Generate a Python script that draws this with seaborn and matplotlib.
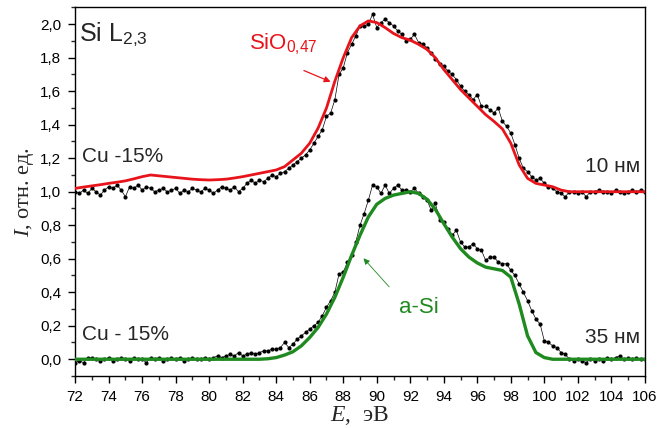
import matplotlib
matplotlib.use("Agg")
import matplotlib.pyplot as plt
import numpy as np
import pandas as pd
import seaborn as sns
from matplotlib.ticker import FuncFormatter, MultipleLocator

# energy grid of the measured points (0.25 eV step)
ENERGY = np.linspace(72.0, 106.0, 137)

# measured spectrum, 10 nm film (shifted by +1)
SPEC_10NM = [
    1.00, 0.99, 1.01, 0.99,  # 72
    1.02, 1.00, 0.98, 1.01,  # 73
    1.03, 1.02, 1.04, 1.01,  # 74
    0.97, 1.03, 1.02, 1.04,  # 75
    1.01, 1.03, 1.02, 1.00,  # 76
    1.01, 1.02, 1.00, 1.01,  # 77
    1.02, 0.99, 1.01, 1.00,  # 78
    1.02, 1.01, 1.00, 1.02,  # 79
    1.01, 0.99, 1.01, 1.03,  # 80
    1.02, 1.01, 1.03, 1.00,  # 81
    1.02, 1.05, 1.07, 1.05,  # 82
    1.07, 1.06, 1.08, 1.10,  # 83
    1.09, 1.11, 1.12, 1.14,  # 84
    1.16, 1.18, 1.20, 1.22,  # 85
    1.25, 1.29, 1.33, 1.37,  # 86
    1.45, 1.47, 1.55, 1.70,  # 87
    1.74, 1.83, 1.88, 1.93,  # 88
    1.99, 1.99, 2.00, 2.06,  # 89
    1.98, 2.01, 2.03, 2.01,  # 90
    1.99, 1.96, 1.94, 1.90,  # 91
    1.91, 1.94, 1.89, 1.88,  # 92
    1.86, 1.83, 1.79, 1.76,  # 93
    1.75, 1.72, 1.70, 1.67,  # 94
    1.63, 1.60, 1.58, 1.55,  # 95
    1.58, 1.51, 1.51, 1.49,  # 96
    1.47, 1.50, 1.42, 1.39,  # 97
    1.35, 1.28, 1.20, 1.14,  # 98
    1.12, 1.09, 1.07, 1.08,  # 99
    1.05, 1.03, 1.02, 1.00,  # 100
    0.99, 0.97, 1.00, 1.00,  # 101
    0.99, 1.00, 0.97, 1.00,  # 102
    1.00, 1.01, 1.00, 1.00,  # 103
    0.99, 1.01, 1.00, 0.99,  # 104
    1.00, 1.01, 1.00, 1.01,  # 105
    1.00,                    # 106
]

# measured spectrum, 35 nm film
SPEC_35NM = [
    -0.02, -0.01, -0.02, 0.01,  # 72
    0.01, 0.00, -0.01, 0.00,    # 73
    0.01, -0.01, 0.00, 0.01,    # 74
    0.00, -0.01, 0.01, 0.00,    # 75
    0.00, -0.02, 0.01, 0.00,    # 76
    0.01, -0.01, 0.00, 0.01,    # 77
    0.00, 0.01, -0.01, 0.00,    # 78
    0.01, 0.00, 0.00, 0.01,     # 79
    0.00, 0.01, 0.02, 0.01,     # 80
    0.02, 0.03, 0.02, 0.04,     # 81
    0.02, 0.03, 0.04, 0.03,     # 82
    0.04, 0.05, 0.05, 0.06,     # 83
    0.06, 0.07, 0.10, 0.07,     # 84
    0.09, 0.12, 0.14, 0.16,     # 85
    0.18, 0.20, 0.22, 0.26,     # 86
    0.31, 0.35, 0.40, 0.51,     # 87
    0.52, 0.58, 0.62, 0.70,     # 88
    0.80, 0.87, 0.95, 1.04,     # 89
    1.03, 0.99, 1.04, 0.99,     # 90
    1.02, 1.04, 1.01, 1.01,     # 91
    1.00, 1.02, 0.99, 0.97,     # 92
    0.95, 0.89, 0.93, 0.83,     # 93
    0.82, 0.78, 0.74, 0.77,     # 94
    0.70, 0.67, 0.67, 0.69,     # 95
    0.66, 0.65, 0.59, 0.61,     # 96
    0.61, 0.58, 0.57, 0.57,     # 97
    0.53, 0.50, 0.45, 0.40,     # 98
    0.35, 0.29, 0.24, 0.21,     # 99
    0.11, 0.10, 0.08, 0.07,     # 100
    0.04, 0.03, 0.00, -0.01,    # 101
    0.00, -0.01, -0.02, 0.00,   # 102
    -0.01, 0.00, -0.01, 0.01,   # 103
    0.00, 0.01, 0.02, 0.00,     # 104
    0.01, 0.00, 0.01, 0.00,     # 105
    0.00,                       # 106
]

# reference spectra (0.5 eV step)
REF_ENERGY = np.linspace(72.0, 106.0, 69)

REF_SIO = [
    1.020, 1.028, 1.035, 1.042, 1.050, 1.057, 1.065, 1.077,  # 72-75.5
    1.090, 1.100, 1.095, 1.090, 1.085, 1.080, 1.075, 1.072,  # 76-79.5
    1.070, 1.072, 1.075, 1.082, 1.090, 1.100, 1.110, 1.120,  # 80-83.5
    1.130, 1.150, 1.190, 1.230, 1.290, 1.380, 1.500, 1.660,  # 84-87.5
    1.800, 1.920, 1.990, 2.020, 2.010, 1.980, 1.945, 1.920,  # 88-91.5
    1.905, 1.880, 1.850, 1.800, 1.730, 1.670, 1.610, 1.560,  # 92-95.5
    1.510, 1.460, 1.420, 1.375, 1.290, 1.160, 1.080, 1.050,  # 96-99.5
    1.040, 1.030, 1.010, 1.000, 1.000, 1.000, 1.000, 1.000,  # 100-103.5
    1.000, 1.000, 1.000, 1.000, 1.000,                       # 104-106
]

REF_ASI = [
    0.000, 0.000, 0.000, 0.000, 0.000, 0.000, 0.000, 0.000,  # 72-75.5
    0.000, 0.000, 0.000, 0.000, 0.000, 0.000, 0.000, 0.000,  # 76-79.5
    0.000, 0.000, 0.000, 0.000, 0.000, 0.000, 0.000, 0.003,  # 80-83.5
    0.010, 0.025, 0.045, 0.080, 0.130, 0.190, 0.270, 0.370,  # 84-87.5
    0.490, 0.620, 0.740, 0.850, 0.925, 0.960, 0.980, 0.990,  # 88-91.5
    1.000, 0.990, 0.955, 0.895, 0.810, 0.730, 0.660, 0.610,  # 92-95.5
    0.575, 0.550, 0.540, 0.530, 0.490, 0.330, 0.140, 0.040,  # 96-99.5
    0.010, 0.000, 0.000, 0.000, 0.000, 0.000, 0.000, 0.000,  # 100-103.5
    0.000, 0.000, 0.000, 0.000, 0.000,                       # 104-106
]

RED = "#e8141b"
GREEN = "#1f8a1f"


def comma_formatter(x: float, pos: int) -> str:
    return f"{x:.1f}".replace(".", ",").replace("-0,0", "0,0")


def main():
    sns.set_style("ticks")
    plt.rcParams["font.family"] = ["Liberation Sans", "DejaVu Sans"]
    plt.rcParams["mathtext.fontset"] = "custom"
    plt.rcParams["mathtext.rm"] = "Liberation Sans"
    plt.rcParams["mathtext.it"] = "Liberation Serif:italic"

    meas = pd.DataFrame({"E": ENERGY, "top": SPEC_10NM, "bottom": SPEC_35NM})
    ref = pd.DataFrame({"E": REF_ENERGY, "sio": REF_SIO, "asi": REF_ASI})

    fig = plt.figure(figsize=(6.71, 4.28), dpi=100)
    ax = fig.add_axes([0.112, 0.1215, 0.849, 0.861])

    for col in ["top", "bottom"]:
        sns.lineplot(data=meas, x="E", y=col, ax=ax, color="black", lw=0.5,
                     marker="o", markersize=3.0, markeredgewidth=0, zorder=2)
    sns.lineplot(data=ref, x="E", y="sio", ax=ax, color=RED, lw=2.0, zorder=3)
    sns.lineplot(data=ref, x="E", y="asi", ax=ax, color=GREEN, lw=2.4, zorder=3)

    ax.set_xlim(72, 106)
    ax.set_ylim(-0.1, 2.1)
    ax.xaxis.set_major_locator(MultipleLocator(2))
    ax.xaxis.set_minor_locator(MultipleLocator(1))
    ax.yaxis.set_major_locator(MultipleLocator(0.2))
    ax.yaxis.set_minor_locator(MultipleLocator(0.1))
    ax.yaxis.set_major_formatter(FuncFormatter(comma_formatter))
    ax.tick_params(which="major", direction="out", length=5, width=1,
                   labelsize=11, colors="black", pad=5)
    ax.tick_params(which="minor", direction="out", length=3, width=1)
    for sp in ax.spines.values():
        sp.set_linewidth(1.0)
        sp.set_color("black")

    ax.set_xlabel("$E$,  эВ", fontsize=17, family="Liberation Serif", labelpad=0)
    ax.set_ylabel("$I$, отн. ед.", fontsize=16, family="Liberation Serif", labelpad=3)

    ax.text(72.25, 1.94, "Si L$_{2{,}3}$", fontsize=18, va="center")
    ax.text(72.4, 1.21, "Cu -15%", fontsize=15, va="center")
    ax.text(72.4, 0.15, "Cu - 15%", fontsize=15, va="center")
    ax.text(105.7, 1.15, "10 нм", fontsize=15, va="center", ha="right")
    ax.text(105.7, 0.13, "35 нм", fontsize=15, va="center", ha="right")

    ax.text(82.4, 1.885, "SiO$_{0{,}47}$", fontsize=16, va="center", color=RED)
    ax.annotate("", xy=(87.4, 1.65), xytext=(85.5, 1.73),
                arrowprops=dict(arrowstyle="-|>", color=RED, lw=0.9,
                                mutation_scale=9))
    ax.text(91.3, 0.31, "a-Si", fontsize=16, va="center", color=GREEN)
    ax.annotate("", xy=(89.1, 0.615), xytext=(90.85, 0.42),
                arrowprops=dict(arrowstyle="-|>", color=GREEN, lw=0.6,
                                mutation_scale=9))

    fig.savefig("out.png", dpi=100)


if __name__ == "__main__":
    main()
